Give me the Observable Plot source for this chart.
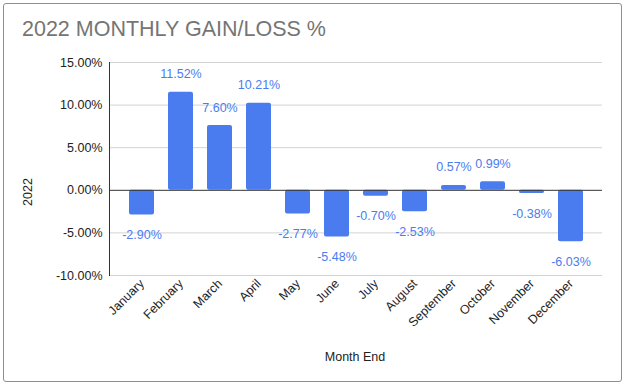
<!DOCTYPE html>
<html><head><meta charset="utf-8">
<script src="https://cdn.jsdelivr.net/npm/d3@7"></script>
<script src="https://cdn.jsdelivr.net/npm/@observablehq/plot@0.6"></script>
<style>
body{margin:0;background:#fff;}
#wrap{position:relative;width:624px;height:385px;font-family:"Liberation Sans",Arial,sans-serif;overflow:hidden;}
#frame{position:absolute;left:3px;top:3px;width:619px;height:379px;border:1px solid #8e8e8e;border-radius:3px;box-sizing:border-box;pointer-events:none;}
#title{position:absolute;left:22px;top:19px;font-size:21.5px;line-height:21.5px;color:#757575;white-space:nowrap;}
#ylab{position:absolute;left:28px;top:192px;font-size:12.5px;color:#222;transform:translate(-50%,-50%) rotate(-90deg);white-space:nowrap;}
#xlab{position:absolute;left:355px;top:357px;font-size:12.5px;color:#222;transform:translate(-50%,-50%);white-space:nowrap;}
#chart{position:absolute;left:0;top:0;}
</style>
</head><body>
<div id="wrap">
  <div id="chart"></div>
  <div id="title">2022 MONTHLY GAIN/LOSS %</div>
  <div id="ylab">2022</div>
  <div id="xlab">Month End</div>
  <div id="frame"></div>
</div>
<script>
const months = ["January","February","March","April","May","June","July","August","September","October","November","December"];
const values = [-2.90, 11.52, 7.60, 10.21, -2.77, -5.48, -0.70, -2.53, 0.57, 0.99, -0.38, -6.03];
const yTicks = [-10, -5, 0, 5, 10, 15];
const gridTicks = [-10, -5, 5, 10, 15];

const data = months.map((m, i) => ({month: m, value: values[i]}));
const fmt = v => v.toFixed(2) + "%";
const blue = "#4a7cf0";

const chart = Plot.plot({
  width: 624,
  height: 385,
  marginLeft: 109,
  marginRight: 22,
  marginTop: 62,
  marginBottom: 110,
  style: {fontFamily: '"Liberation Sans", Arial, sans-serif', fontSize: "12.5px", color: "#222", background: "transparent"},
  x: {domain: months, padding: 0.37, label: null, tickRotate: -45, tickSize: 0, tickPadding: 6},
  y: {domain: [-10, 15], ticks: yTicks, tickFormat: fmt, label: null, tickSize: 0, tickPadding: 7},
  marks: [
    Plot.ruleY(gridTicks, {stroke: "#d3d3d3", strokeWidth: 1}),
    Plot.barY(data, {x: "month", y: "value", fill: blue, rx: 2}),
    Plot.ruleY([0], {stroke: "#333", strokeWidth: 1}),
    Plot.frame({anchor: "left", stroke: "#333"}),
    Plot.text(data.filter(d => d.value >= 0), {x: "month", y: "value", text: d => fmt(d.value), dy: -18, fill: blue, fontSize: 12.5}),
    Plot.text(data.filter(d => d.value < 0), {x: "month", y: "value", text: d => fmt(d.value), dy: 20, fill: blue, fontSize: 12.5})
  ]
});
document.getElementById("chart").appendChild(chart);
</script>
</body></html>
